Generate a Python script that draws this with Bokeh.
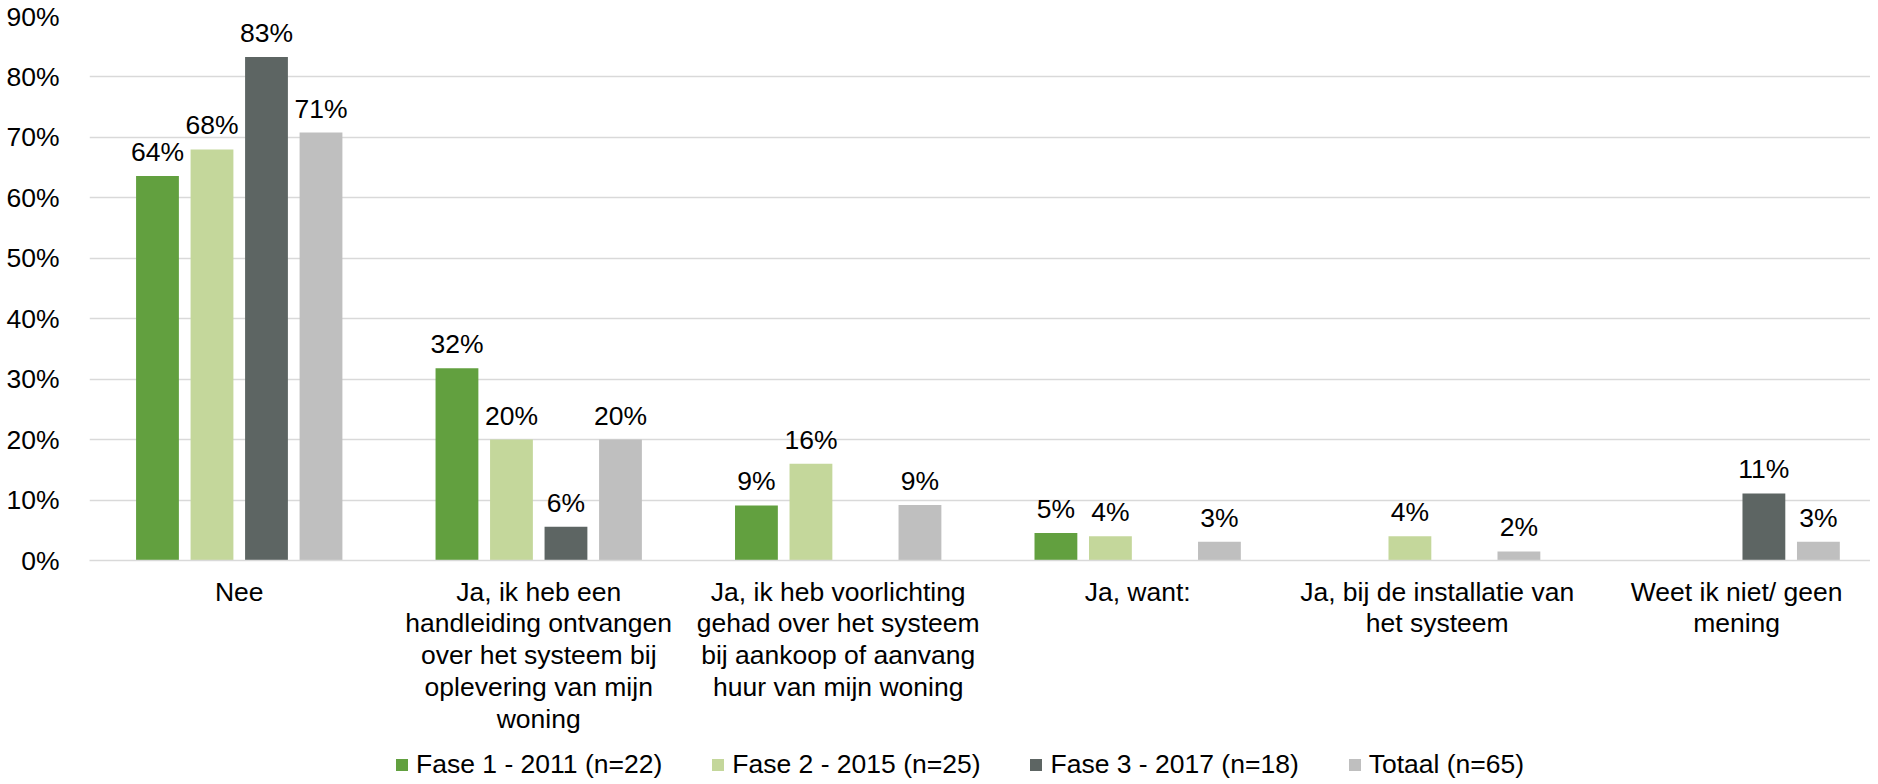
from bokeh.plotting import figure
from bokeh.models import (ColumnDataSource, Range1d, FixedTicker, Legend, LegendItem,
                          PrintfTickFormatter)
from bokeh.layouts import column
from bokeh.transform import dodge
from bokeh.core.properties import value
from bokeh.embed import file_html
from bokeh.resources import INLINE

# ---- data (percent) ----
categories = [
    "Nee",
    "Ja, ik heb een\nhandleiding ontvangen\nover het systeem bij\noplevering van mijn\nwoning",
    "Ja, ik heb voorlichting\ngehad over het systeem\nbij aankoop of aanvang\nhuur van mijn woning",
    "Ja, want:",
    "Ja, bij de installatie van\nhet systeem",
    "Weet ik niet/ geen\nmening",
]
fase1 = [63.6, 31.8, 9.1, 4.55, 0, 0]
fase2 = [68.0, 20.0, 16.0, 4.0, 4.0, 0]
fase3 = [83.3, 5.6, 0, 0, 0, 11.1]
totaal = [70.8, 20.0, 9.2, 3.1, 1.5, 3.1]
series_names = ["Fase 1 - 2011 (n=22)", "Fase 2 - 2015 (n=25)",
                "Fase 3 - 2017 (n=18)", "Totaal (n=65)"]
series_values = [fase1, fase2, fase3, totaal]
colors = ["#62A03F", "#C4D79B", "#5D6563", "#BFBFBF"]
y_ticks = [0, 10, 20, 30, 40, 50, 60, 70, 80, 90]

FONT = "Liberation Sans"
FS = "26.5px"

p = figure(width=1870, height=737, output_backend="svg", toolbar_location=None,
           x_range=Range1d(0, 5.947), y_range=Range1d(0, 90),
           min_border_left=89, min_border_right=0, min_border_top=16,
           min_border_bottom=177)
p.outline_line_color = None
p.background_fill_color = "white"
p.border_fill_color = "white"

xs = [i + 0.5 for i in range(len(categories))]
pitch = 0.182
bw = 0.143
offsets = [-1.5 * pitch, -0.5 * pitch, 0.5 * pitch, 1.5 * pitch]

for name, vals, col, off in zip(series_names, series_values, colors, offsets):
    src = ColumnDataSource(dict(x=xs, top=vals,
                                lbl=[f"{int(v + 0.5)}%" if v > 0 else "" for v in vals]))
    p.vbar(x=dodge("x", off), top="top", width=bw, source=src,
           fill_color=col, line_color=None)
    p.text(x=dodge("x", off), y="top", text="lbl", source=src,
           text_align="center", text_baseline="alphabetic", y_offset=-24,
           text_font=value(FONT), text_font_size=FS, text_color="#000000")

# axes
p.yaxis.ticker = FixedTicker(ticks=y_ticks)
p.yaxis.formatter = PrintfTickFormatter(format="%d%%")
p.yaxis.axis_line_color = None
p.yaxis.major_tick_line_color = None
p.yaxis.minor_tick_line_color = None
p.yaxis.major_label_standoff = 24
p.yaxis.major_label_text_font = FONT
p.yaxis.major_label_text_font_size = FS
p.yaxis.major_label_text_color = "#000000"

p.xaxis.ticker = FixedTicker(ticks=xs)
p.xaxis.major_label_overrides = {x: c for x, c in zip(xs, categories)}
p.xaxis.axis_line_color = "#D9D9D9"
p.xaxis.axis_line_width = 1.5
p.xaxis.major_tick_line_color = None
p.xaxis.minor_tick_line_color = None
p.xaxis.major_tick_out = 0
p.xaxis.major_label_standoff = 16
p.xaxis.major_label_text_font = FONT
p.xaxis.major_label_text_font_size = FS
p.xaxis.major_label_text_line_height = 1.06
p.xaxis.major_label_text_color = "#000000"

p.xgrid.grid_line_color = None
p.ygrid.grid_line_color = "#D9D9D9"
p.ygrid.grid_line_width = 1.5

# ---- legend strip (separate figure; key proxies lie outside its visible range) ----
lg = figure(width=1870, height=43, output_backend="svg", toolbar_location=None,
            x_range=Range1d(0, 1), y_range=Range1d(0, 1),
            min_border_left=0, min_border_right=0, min_border_top=0, min_border_bottom=0)
lg.axis.visible = False
lg.grid.grid_line_color = None
lg.outline_line_color = None
items = []
for name, col in zip(series_names, colors):
    r = lg.vbar(x=[-5], top=[0], width=0.1, fill_color=col, line_color=None)
    items.append(LegendItem(label=name, renderers=[r]))
legend = Legend(items=items, orientation="horizontal", location=(305, 0),
                glyph_width=15, glyph_height=15, label_standoff=7, spacing=48,
                padding=0, margin=0, border_line_color=None, background_fill_alpha=0,
                label_text_font=FONT, label_text_font_size=FS, label_text_color="#000000")
lg.add_layout(legend, "center")

layout = column(p, lg, spacing=0)
open("out.html", "w").write(file_html(layout, INLINE))
